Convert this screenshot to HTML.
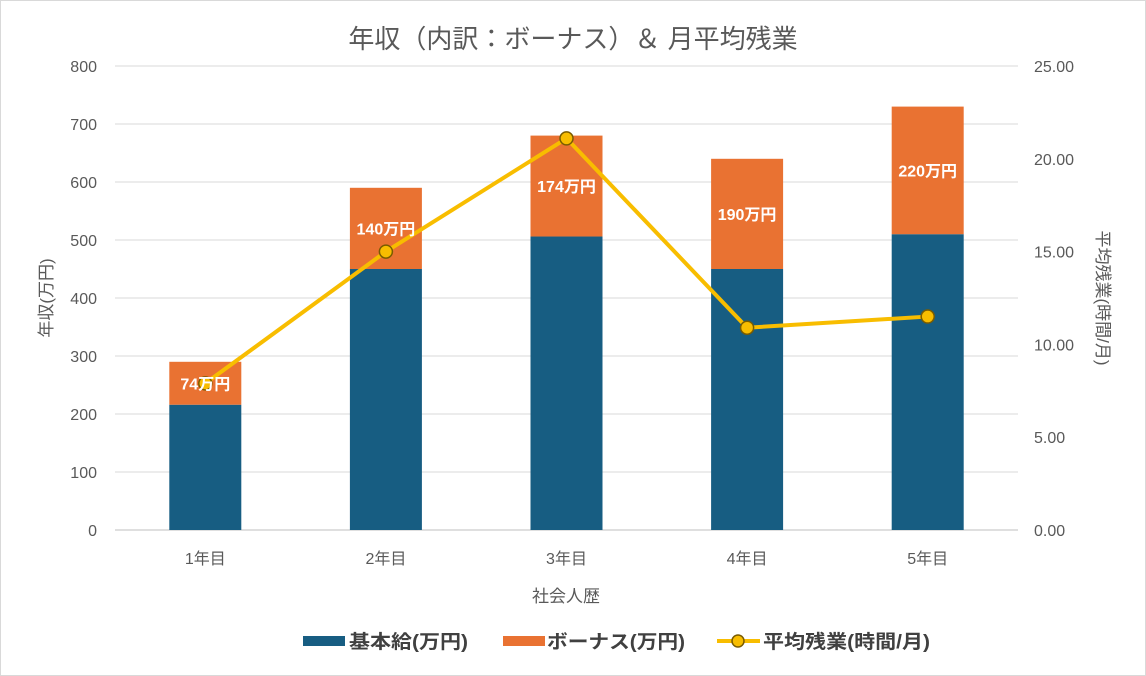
<!DOCTYPE html>
<html><head><meta charset="utf-8"><style>
body{margin:0;background:#fff;}
svg{display:block;font-family:"Liberation Sans","Noto Sans CJK JP",sans-serif;}
</style></head><body>
<svg id="chart" width="1146" height="676">
<rect x="0.5" y="0.5" width="1145" height="675" fill="#fff" stroke="#d9d9d9"/>
<text x="573" y="48" text-anchor="middle" font-size="26" fill="#595959">年収（内訳：ボーナス）＆ 月平均残業</text>
<g id="grid"></g><g id="bars"></g><g id="line"></g><g id="labels"></g>
<text transform="translate(52,298) rotate(-90)" text-anchor="middle" font-size="17" fill="#595959">年収(万円)</text>
<text transform="translate(1097,298) rotate(90)" text-anchor="middle" font-size="17" fill="#595959">平均残業(時間/月)</text>
<text x="566" y="602" text-anchor="middle" font-size="17" fill="#595959">社会人歴</text>
<g font-size="19" font-weight="bold" fill="#404040">
<g><rect x="303" y="636" width="42" height="10" fill="#175d82"/><text x="349" y="648" textLength="119" lengthAdjust="spacingAndGlyphs">基本給(万円)</text></g>
<g><rect x="503" y="636" width="42" height="10" fill="#e97232"/><text x="547" y="648" textLength="138" lengthAdjust="spacingAndGlyphs">ボーナス(万円)</text></g>
<g><line x1="717" y1="641" x2="760" y2="641" stroke="#f8bd00" stroke-width="4"/><circle cx="738" cy="641" r="6" fill="#f8bd00" stroke="#7a5c00" stroke-width="1.5"/><text x="763" y="648" textLength="167" lengthAdjust="spacingAndGlyphs">平均残業(時間/月)</text></g>
</g>
</svg>
<script>
const categories=["1年目","2年目","3年目","4年目","5年目"];
const baseSalary=[216,450,506,450,510];
const bonus=[74,140,174,190,220];
const overtime=[7.9,15.0,21.1,10.9,11.5];
const leftTicks=[0,100,200,300,400,500,600,700,800];
const rightTicks=["0.00","5.00","10.00","15.00","20.00","25.00"];
const NS="http://www.w3.org/2000/svg";
const x0=115,x1=1018,yb=530,yt=66;
const yL=v=>yb-(v/800)*(yb-yt);
const yR=v=>yb-(v/25)*(yb-yt);
const bw=(x1-x0)/categories.length;
const xC=i=>x0+bw*(i+0.5);
function mk(tag,attrs,parent,txt){const e=document.createElementNS(NS,tag);for(const k in attrs)e.setAttribute(k,attrs[k]);if(txt!==undefined)e.textContent=txt;document.getElementById(parent).appendChild(e);return e;}
leftTicks.forEach(t=>{
 const g=mk("line",{x1:x0,x2:x1,y1:yL(t),y2:yL(t),stroke:t===0?"#bfbfbf":"#d9d9d9","stroke-width":1},"grid");
 
 
 const l=mk("text",{x:97,y:yL(t)+6,"text-anchor":"end","font-size":16,fill:"#595959"},"grid",t);
 
 
});
rightTicks.forEach(t=>{
 const l=mk("text",{x:1034,y:yR(parseFloat(t))+6,"font-size":16,fill:"#595959"},"grid",t);
 
 
});
categories.forEach((c,i)=>{
 const l=mk("text",{x:xC(i),y:564,"text-anchor":"middle","font-size":16,fill:"#595959"},"grid",c);
 
 
 const w=72,x=xC(i)-w/2;
 const b=mk("rect",{x:x,y:yL(baseSalary[i]),width:w,height:yL(0)-yL(baseSalary[i]),fill:"#175d82"},"bars");
 
 
 const tot=baseSalary[i]+bonus[i];
 const o=mk("rect",{x:x,y:yL(tot),width:w,height:yL(baseSalary[i])-yL(tot),fill:"#e97232"},"bars");
 
 
 const lb=mk("text",{x:xC(i),y:(yL(tot)+yL(baseSalary[i]))/2+6,"text-anchor":"middle","font-size":16,"font-weight":"bold",fill:"#fff"},"labels",bonus[i]+"万円");
 
 
});
const pts=overtime.map((v,i)=>xC(i)+","+yR(v)).join(" ");
const pl=mk("polyline",{points:pts,fill:"none",stroke:"#f8bd00","stroke-width":4,"stroke-linejoin":"round"},"line");


overtime.forEach((v,i)=>{
 const p=mk("circle",{cx:xC(i),cy:yR(v),r:6.5,fill:"#f8bd00",stroke:"#7a5c00","stroke-width":1.5},"line");
 
 
});
</script>
</body></html>
